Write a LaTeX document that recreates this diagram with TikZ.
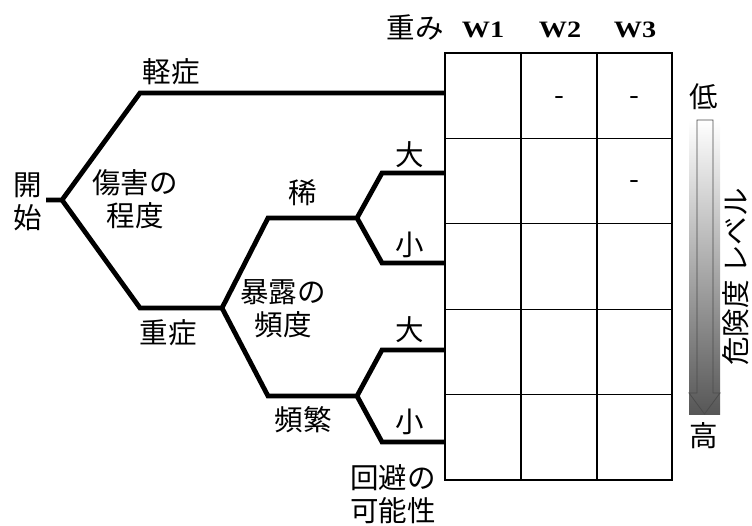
\documentclass[tikz,border=0pt]{standalone}
\usepackage{fontspec}
\setmainfont{Liberation Serif}
\newfontfamily\jp{Noto Sans CJK JP}
\newfontfamily\wfont[FakeStretch=1.2]{Liberation Serif}
\begin{document}
\begin{tikzpicture}[x=1pt,y=-1pt,
  branch/.style={line width=4.8pt, line join=miter, line cap=butt},
  lbl/.style={font=\jp\fontsize{28.5}{33}\selectfont, inner sep=0pt, align=center},
  wlbl/.style={font=\wfont\bfseries\fontsize{23.5}{25}\selectfont, inner sep=0pt},
  outer/.style={line width=1.9pt},
  rowline/.style={line width=1pt}]
\useasboundingbox (0,0) rectangle (752,526);

% branch points
\coordinate (s0) at (46,200);
\coordinate (j0) at (62,200);
\coordinate (l1) at (140,93);
\coordinate (l1e) at (445,93);
\coordinate (h1) at (140,308);
\coordinate (j1) at (222,308);
\coordinate (r1) at (268,218);
\coordinate (j2) at (357,218);
\coordinate (a1) at (382,173);
\coordinate (a1e) at (445,173);
\coordinate (b1) at (382,263);
\coordinate (b1e) at (445,263);
\coordinate (f1) at (268,396);
\coordinate (j3) at (357,396);
\coordinate (a2) at (382,350);
\coordinate (a2e) at (445,350);
\coordinate (b2) at (382,442);
\coordinate (b2e) at (445,442);

\draw[branch] (s0) -- (j0) -- (l1) -- (l1e);
\draw[branch] (j0) -- (h1) -- (j1) -- (r1) -- (j2) -- (a1) -- (a1e);
\draw[branch] (j2) -- (b1) -- (b1e);
\draw[branch] (j1) -- (f1) -- (j3) -- (a2) -- (a2e);
\draw[branch] (j3) -- (b2) -- (b2e);

% table
\coordinate (tl) at (445,53);
\coordinate (br) at (672,480);
\foreach \y in {138.4,223.8,309.2,394.6} \draw[rowline] (445,\y) -- (672,\y);
\draw[outer] (521,53) -- (521,480);
\draw[outer] (597,53) -- (597,480);
\draw[outer] (tl) rectangle (br);

\node[lbl] (d1) at (559,101) {-};
\node[lbl] (d2) at (634.5,101) {-};
\node[lbl] (d3) at (634.5,185) {-};

% header
\node[lbl] (omomi) at (415,27) {重み};
\node[wlbl] (w1) at (483,30) {W1};
\node[wlbl] (w2) at (560,30) {W2};
\node[wlbl] (w3) at (635,30) {W3};

% labels
\node[lbl] (start) at (27.5,201.5) {開\\始};
\node[lbl] (injury) at (135,199) {傷害の\\程度};
\node[lbl] (light) at (171,72) {軽症};
\node[lbl] (heavy) at (168,333) {重症};
\node[lbl] (rare) at (303,193) {稀};
\node[lbl] (expo) at (283,309) {暴露の\\頻度};
\node[lbl] (freq) at (303,420) {頻繁};
\node[lbl] (big1) at (410,155) {大};
\node[lbl] (small1) at (410,245) {小};
\node[lbl] (big2) at (410,330) {大};
\node[lbl] (small2) at (410,422) {小};
\node[lbl] (avoid) at (393,494) {回避の\\可能性};

% risk level arrow
\shade[top color=white, bottom color=black!66] (689,120) rectangle (720,414);
\draw[black!70, line width=0.8pt] (697,120) -- (713,120) -- (713,393) -- (720,393) -- (704.5,414) -- (689,393) -- (697,393) -- cycle;
\node[lbl] (low) at (704,97) {低};
\node[lbl] (high) at (704,436) {高};
\node[lbl, rotate=90] (level) at (736,277) {危険度 レベル};
\end{tikzpicture}
\end{document}
